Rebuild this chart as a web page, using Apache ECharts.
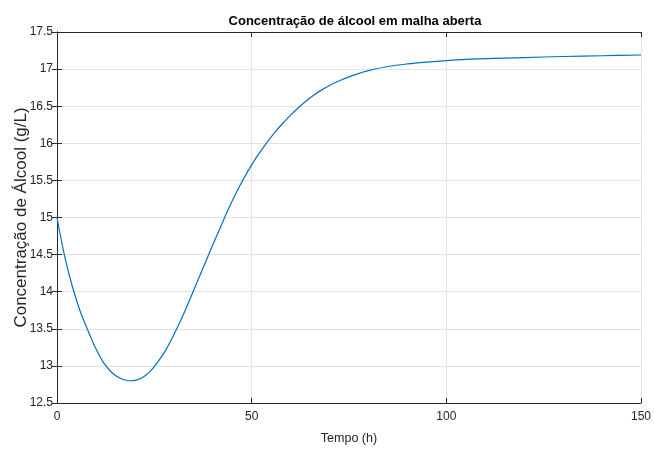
<!DOCTYPE html>
<html>
<head>
<meta charset="utf-8">
<script src="https://cdn.jsdelivr.net/npm/echarts@6/dist/echarts.min.js"></script>
<style>
  html, body { margin: 0; padding: 0; background: #fff; }
  #chart { width: 654px; height: 452px; }
</style>
</head>
<body>
<div id="chart"></div>
<script>
  // tempo (h) e concentração (g/L)
  const tempo = [0, 2, 4, 6, 8, 10, 12, 14, 16, 18, 19, 20, 22, 24, 26, 28, 30, 32, 34, 36,
    38, 40, 42, 44, 46, 48, 50, 52, 54, 56, 58, 60, 62, 64, 66, 68, 70, 72, 74, 76,
    78, 80, 85, 90, 95, 100, 105, 110, 120, 130, 140, 150];
  const concentracao = [15.0, 14.47, 14.06, 13.73, 13.47, 13.23, 13.04, 12.915, 12.84, 12.803, 12.80, 12.805, 12.845, 12.93, 13.06, 13.22, 13.42, 13.64, 13.88, 14.13,
    14.38, 14.63, 14.87, 15.11, 15.33, 15.53, 15.71, 15.87, 16.015, 16.15, 16.27, 16.38, 16.48, 16.57, 16.65, 16.72, 16.78, 16.83, 16.875, 16.915,
    16.95, 16.98, 17.035, 17.07, 17.095, 17.115, 17.13, 17.14, 17.155, 17.17, 17.18, 17.19];
  const xTicks = { min: 0, max: 150, interval: 50 };
  const yTicks = { min: 12.5, max: 17.5, interval: 0.5 };

  const fonte = '"Liberation Sans", Arial, sans-serif';
  const axisColor = '#262626';

  const pontos = tempo.map((t, i) => [t, concentracao[i]]);

  let chart = echarts.init(document.getElementById('chart'));

  // eixos de cima e da direita: só a linha da caixa e os ticks
  const caixa = {
    axisLabel: { show: false },
    splitLine: { show: false },
    axisLine: { show: true, lineStyle: { color: axisColor, width: 1 } },
    axisTick: { show: true, inside: true, length: 5, lineStyle: { color: axisColor } }
  };

  chart.setOption({
    animation: false,
    title: {
      text: 'Concentração de álcool em malha aberta',
      left: 350,
      textAlign: 'center',
      top: 10,
      textStyle: { fontFamily: fonte, fontWeight: 'bold', fontSize: 13, color: '#000' }
    },
    grid: { left: 57, right: 13, top: 32, bottom: 49, outerBoundsMode: 'none', containLabel: false },
    xAxis: [{
      type: 'value',
      min: xTicks.min, max: xTicks.max, interval: xTicks.interval,
      name: 'Tempo (h)',
      nameLocation: 'middle',
      nameGap: 29,
      nameTextStyle: { fontFamily: fonte, fontSize: 12.5, color: '#262626' },
      axisLine: { show: true, onZero: false, lineStyle: { color: axisColor, width: 1 } },
      axisTick: { show: true, inside: true, length: 5, lineStyle: { color: axisColor } },
      axisLabel: { fontFamily: fonte, fontSize: 12, color: '#262626', margin: 8 },
      splitLine: { show: true, lineStyle: { color: '#e3e3e3', width: 1 } }
    }, Object.assign({
      type: 'value', position: 'top',
      min: xTicks.min, max: xTicks.max, interval: xTicks.interval
    }, caixa)],
    yAxis: [{
      type: 'value',
      min: yTicks.min, max: yTicks.max, interval: yTicks.interval,
      name: 'Concentração de Álcool (g/L)',
      nameLocation: 'middle',
      nameGap: 27,
      nameMoveOverlap: false,
      nameTextStyle: { fontFamily: fonte, fontSize: 17, color: '#262626' },
      axisLine: { show: true, onZero: false, lineStyle: { color: axisColor, width: 1 } },
      axisTick: { show: true, inside: true, length: 5, lineStyle: { color: axisColor } },
      axisLabel: { fontFamily: fonte, fontSize: 12, color: '#262626', margin: 4 },
      splitLine: { show: true, lineStyle: { color: '#e3e3e3', width: 1 } }
    }, Object.assign({
      type: 'value', position: 'right',
      min: yTicks.min, max: yTicks.max, interval: yTicks.interval
    }, caixa)],
    series: [{
      type: 'line',
      data: pontos,
      smooth: 0.35,
      showSymbol: false,
      lineStyle: { color: '#0072BD', width: 1.2 }
    }]
  });
</script>
</body>
</html>
